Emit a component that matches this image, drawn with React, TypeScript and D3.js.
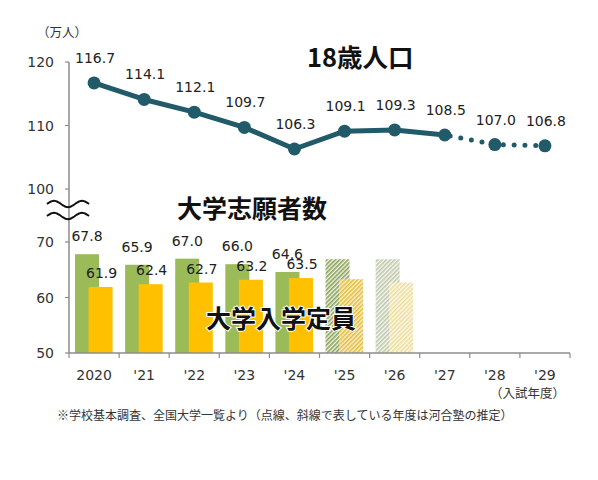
import * as d3 from 'd3';

// data (万人)
const years = ['2020', "'21", "'22", "'23", "'24", "'25", "'26", "'27", "'28", "'29"];
const pop18 = [116.7, 114.1, 112.1, 109.7, 106.3, 109.1, 109.3, 108.5, 107.0, 106.8];
const applicants = [67.8, 65.9, 67.0, 66.0, 64.6, 66.9, 66.9]; // '25,'26 estimated (hatched)
const capacity = [61.9, 62.4, 62.7, 63.2, 63.5, 63.3, 62.7];
const actualCount = 5; // bars with labels, the rest are estimates
const solidLineUntil = 7; // index of last point on the solid line
const upperTicks = [100, 110, 120];
const lowerTicks = [50, 60, 70];

const W = 598;
const H = 480;
const NUM_FONT = '"DejaVu Sans", Verdana, sans-serif';
const JP_FONT = '"Noto Sans CJK JP", "Noto Sans", sans-serif';
const LINE_COLOR = '#215a69';
const GREEN = '#9bbb59';
const YELLOW = '#ffc000';
const AXIS = '#8c8c8c';

export default function App() {
  const x = d3.scaleBand<string>().domain(years).range([69, 570]);
  const yTop = d3.scaleLinear().domain([100, 120]).range([189, 62]);
  const yBot = d3.scaleLinear().domain([50, 70]).range([353, 242]);
  const bw = x.bandwidth();
  const cx = (i: number) => (x(years[i]) ?? 0) + bw / 2;

  const line = d3
    .line<number>()
    .x((_d, i) => cx(i))
    .y((d) => yTop(d));
  const solidPts = pop18.slice(0, solidLineUntil + 1);
  const dottedPts = pop18.slice(solidLineUntil);
  const dotted = d3
    .line<number>()
    .x((_d, i) => cx(i + solidLineUntil))
    .y((d) => yTop(d));

  const greenX = (i: number) => (x(years[i]) ?? 0) + bw * 0.12;
  const yellowX = (i: number) => (x(years[i]) ?? 0) + bw * 0.39;
  const barW = bw * 0.48;

  const greenFill = (i: number) => (i < actualCount ? GREEN : i === 5 ? 'url(#hatchG1)' : 'url(#hatchG2)');
  const yellowFill = (i: number) => (i < actualCount ? YELLOW : i === 5 ? 'url(#hatchY1)' : 'url(#hatchY2)');

  // wavy break mark
  const wave = (y0: number) => {
    const pts: [number, number][] = d3.range(0, 43, 1).map((t) => [47 + t, y0 + 3.2 * Math.sin((t / 42) * Math.PI * 3 + Math.PI)]);
    return d3.line().curve(d3.curveBasis)(pts) ?? '';
  };

  return (
    <svg width={W} height={H} style={{ position: 'absolute', left: 0, top: 0, background: '#fff' }}>
      <defs>
        {[
          ['hatchG1', '#8aa158', '#f2f5ea'],
          ['hatchY1', '#e6bb3a', '#fbf3d8'],
          ['hatchG2', '#bfc7a8', '#f8f9f5'],
          ['hatchY2', '#eedd9a', '#fdfaf0'],
        ].map(([id, fg, bg]) => (
          <pattern key={id} id={id} width={3} height={3} patternUnits="userSpaceOnUse" patternTransform="rotate(45)">
            <rect width={3} height={3} fill={bg} />
            <rect width={1.6} height={3} fill={fg} />
          </pattern>
        ))}
      </defs>

      {/* bars */}
      {applicants.map((v, i) => (
        <rect key={'g' + i} x={greenX(i)} y={yBot(v)} width={barW} height={yBot(50) - yBot(v)} fill={greenFill(i)} />
      ))}
      {capacity.map((v, i) => (
        <rect key={'y' + i} x={yellowX(i)} y={yBot(v)} width={barW} height={yBot(50) - yBot(v)} fill={yellowFill(i)} />
      ))}

      {/* axes */}
      <line x1={69} x2={69} y1={62} y2={353} stroke={AXIS} strokeWidth={1.5} />
      <line x1={69} x2={570} y1={353} y2={353} stroke={AXIS} strokeWidth={1.5} />
      {upperTicks.map((t) => (
        <g key={'u' + t}>
          <line x1={65} x2={69} y1={yTop(t)} y2={yTop(t)} stroke={AXIS} strokeWidth={1.2} />
          <text x={54} y={yTop(t) + 5} textAnchor="end" fontFamily={NUM_FONT} fontSize={14} fill="#333">
            {t}
          </text>
        </g>
      ))}
      {lowerTicks.map((t) => (
        <g key={'l' + t}>
          <line x1={65} x2={69} y1={yBot(t)} y2={yBot(t)} stroke={AXIS} strokeWidth={1.2} />
          <text x={54} y={yBot(t) + 5} textAnchor="end" fontFamily={NUM_FONT} fontSize={14} fill="#333">
            {t}
          </text>
        </g>
      ))}
      {years.map((yr, i) => (
        <g key={yr}>
          <line x1={x(yr)} x2={x(yr)} y1={353} y2={358} stroke={AXIS} strokeWidth={1.2} />
          <text x={cx(i)} y={380} textAnchor="middle" fontFamily={NUM_FONT} fontSize={14} fill="#333">
            {yr}
          </text>
        </g>
      ))}
      <line x1={570} x2={570} y1={353} y2={358} stroke={AXIS} strokeWidth={1.2} />

      {/* break mark */}
      <path d={wave(204)} fill="none" stroke="#111" strokeWidth={2} />
      <path d={wave(216)} fill="none" stroke="#111" strokeWidth={2} />

      {/* bar labels */}
      {applicants.slice(0, actualCount).map((v, i) => (
        <text key={'gl' + i} x={greenX(i) + barW / 2} y={yBot(v) - 13} textAnchor="middle" fontFamily={NUM_FONT} fontSize={14} fill="#222">
          {v.toFixed(1)}
        </text>
      ))}
      {capacity.slice(0, actualCount).map((v, i) => (
        <text key={'yl' + i} x={yellowX(i) + barW / 2 + 1} y={yBot(v) - 9} textAnchor="middle" fontFamily={NUM_FONT} fontSize={14} fill="#222">
          {v.toFixed(1)}
        </text>
      ))}

      {/* 18-year-old population line */}
      <path d={line(solidPts) ?? ''} fill="none" stroke={LINE_COLOR} strokeWidth={5} strokeLinejoin="round" />
      <path
        d={dotted(dottedPts) ?? ''}
        fill="none"
        stroke={LINE_COLOR}
        strokeWidth={5}
        strokeLinecap="round"
        strokeDasharray="0 10.8"
        strokeDashoffset={-5.5}
      />
      {pop18.map((v, i) => (
        <circle key={'p' + i} cx={cx(i)} cy={yTop(v)} r={6.5} fill={LINE_COLOR} />
      ))}
      {pop18.map((v, i) => (
        <text key={'pl' + i} x={cx(i) + 1} y={yTop(v) - 20} textAnchor="middle" fontFamily={NUM_FONT} fontSize={14} fill="#222">
          {v.toFixed(1)}
        </text>
      ))}

      {/* titles */}
      <text x={307} y={67} fontFamily={JP_FONT} fontWeight={700} fontSize={25.5} fill="#111">
        18歳人口
      </text>
      <text x={177} y={218} fontFamily={JP_FONT} fontWeight={700} fontSize={25} fill="#111">
        大学志願者数
      </text>
      <text
        x={206}
        y={328}
        fontFamily={JP_FONT}
        fontWeight={700}
        fontSize={25}
        fill="#111"
        stroke="#fff"
        strokeWidth={2}
        paintOrder="stroke"
      >
        大学入学定員
      </text>

      {/* unit labels and note */}
      <text x={37} y={37} fontFamily={JP_FONT} fontSize={12.5} fill="#333">
        （万人）
      </text>
      <text x={565} y={398} textAnchor="end" fontFamily={JP_FONT} fontSize={12.5} fill="#333">
        （入試年度）
      </text>
      <text x={57} y={420} fontFamily={JP_FONT} fontSize={12} fill="#333">
        ※学校基本調査、全国大学一覧より（点線、斜線で表している年度は河合塾の推定）
      </text>
    </svg>
  );
}
